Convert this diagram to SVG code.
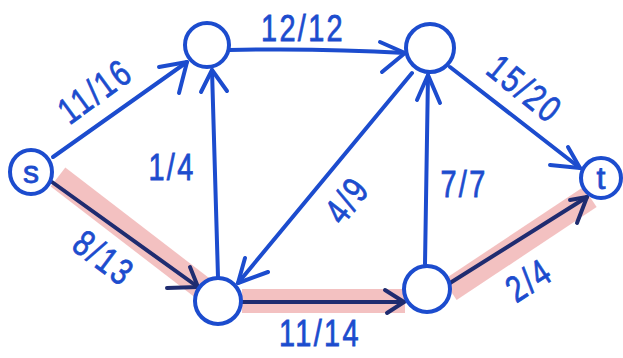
<svg xmlns="http://www.w3.org/2000/svg" width="623" height="358" viewBox="0 0 623 358">
<style>
.node{fill:#fff;stroke:#1c4cce;stroke-width:4}
.e{fill:none;stroke:#1c4cce;stroke-width:4;stroke-linecap:round;stroke-linejoin:round}
.h{fill:none;stroke:#1f2c70;stroke-width:4;stroke-linecap:round;stroke-linejoin:round}
.hl{fill:none;stroke:#eda0a0;stroke-opacity:0.65;stroke-width:24;stroke-linecap:butt}
.lbl{font-family:"Liberation Sans",Arial,sans-serif;font-size:37px;letter-spacing:3px;fill:#1c4cce;stroke:#1c4cce;stroke-width:0.8;text-anchor:middle;dominant-baseline:central}
.nl{font-family:"Liberation Sans",Arial,sans-serif;font-size:32px;fill:#1c4cce;stroke:#1c4cce;stroke-width:0.8;text-anchor:middle;dominant-baseline:central}
</style>
<rect width="623" height="358" fill="#fff"/>
<g id="highlights">
<line class="hl" x1="58" y1="177" x2="205" y2="290"/>
<line class="hl" x1="242" y1="301" x2="405" y2="301"/>
<line class="hl" x1="450" y1="290" x2="590" y2="197"/>
</g>
<g id="connectors">
<g id="e-s-a"><path class="e" d="M53,157 L187,62"/><path class="e" d="M159,67 L187,62 L179,93"/></g>
<g id="e-a-b"><path class="e" d="M229,50 Q320,48 405,53"/><path class="e" d="M380,42 L405,53 L382,72"/></g>
<g id="e-b-t"><path class="e" d="M450,67 L580,168"/><path class="e" d="M550,165 L580,168 L568,147"/></g>
<g id="e-c-a"><path class="e" d="M218,277 L212,70"/><path class="e" d="M201,92 L212,70 L227,91"/></g>
<g id="e-b-c"><path class="e" d="M412,73 L238,283"/><path class="e" d="M245,258 L238,283 L268,272"/></g>
<g id="e-d-b"><path class="e" d="M425,264 L428,75"/><path class="e" d="M417,100 L428,75 L440,103"/></g>
<g id="e-s-c"><path class="h" d="M52,182 L198,287"/><path class="h" d="M167,288 L198,287 L190,267"/></g>
<g id="e-c-d"><path class="h" d="M242,302 L404,302"/><path class="h" d="M385,290 L404,302 L387,313"/></g>
<g id="e-d-t"><path class="h" d="M450,283 L587,197"/><path class="h" d="M570,200 L587,197 L577,223"/></g>
</g>
<g id="labels">
<text class="lbl" transform="translate(95,91) rotate(-36) scale(0.78,1)">11/16</text>
<text class="lbl" transform="translate(303,28) scale(0.78,1)">12/12</text>
<text class="lbl" transform="translate(525,89) rotate(39) scale(0.78,1)">15/20</text>
<text class="lbl" transform="translate(172,167) scale(0.78,1)">1/4</text>
<text class="lbl" transform="translate(347,200) rotate(-52) scale(0.78,1)">4/9</text>
<text class="lbl" transform="translate(464,184) scale(0.78,1)">7/7</text>
<text class="lbl" transform="translate(104,258) rotate(37) scale(0.78,1)">8/13</text>
<text class="lbl" transform="translate(320,333) scale(0.78,1)">11/14</text>
<text class="lbl" transform="translate(529,280) rotate(-33) scale(0.78,1)">2/4</text>
</g>
<g id="node-s"><ellipse class="node" cx="31" cy="172" rx="21" ry="22"/><text class="nl" x="31" y="172">s</text></g>
<g id="node-a"><circle class="node" cx="207" cy="45" r="22"/></g>
<g id="node-b"><circle class="node" cx="430" cy="48" r="24"/></g>
<g id="node-c"><circle class="node" cx="218" cy="301" r="23"/></g>
<g id="node-d"><circle class="node" cx="427" cy="289" r="23"/></g>
<g id="node-t"><circle class="node" cx="601" cy="178" r="20"/><text class="nl" x="601" y="178">t</text></g>
</svg>
